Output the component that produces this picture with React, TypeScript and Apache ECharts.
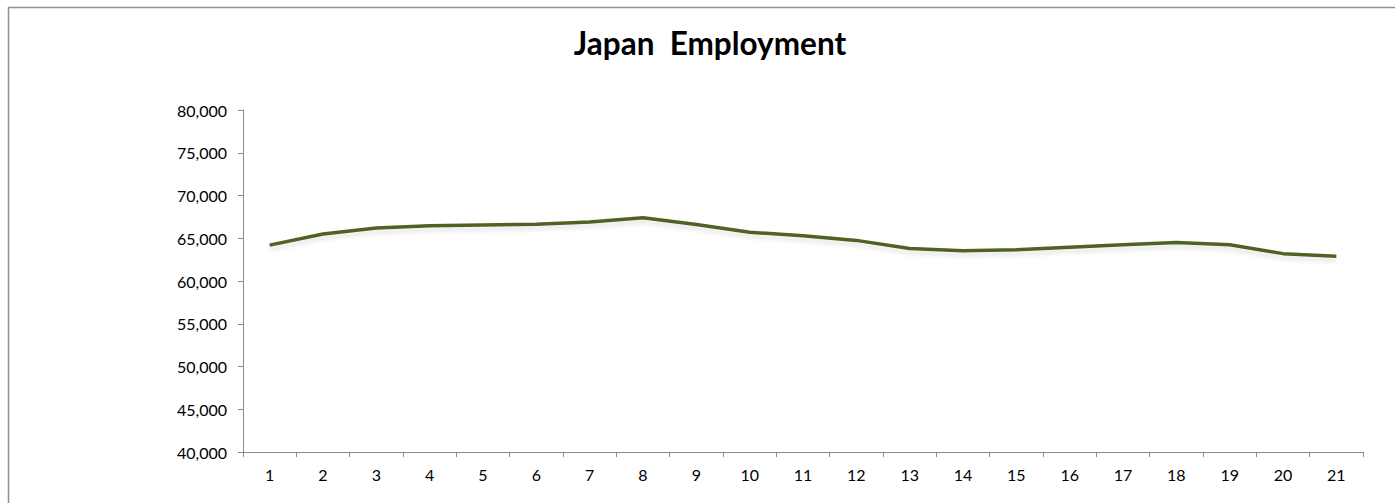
import React, { useEffect, useRef } from "react";
import * as echarts from "echarts";

const TITLE = "Japan  Employment";
const categories = ["1","2","3","4","5","6","7","8","9","10","11","12","13","14","15","16","17","18","19","20","21"];
const employment = [64200, 65500, 66200, 66450, 66550, 66650, 66900, 67400, 66600, 65700, 65300, 64750, 63800, 63550, 63650, 63950, 64250, 64500, 64250, 63200, 62900];
const yMin = 40000;
const yMax = 80000;
const yStep = 5000;

const FONT = "Lato, 'Open Sans', sans-serif";

export default function App() {
  const ref = useRef<HTMLDivElement>(null);
  useEffect(() => {
    if (!ref.current) return;
    const chart = echarts.init(ref.current, undefined, { renderer: "svg" });
    chart.setOption({
      animation: false,
      backgroundColor: "#ffffff",
      title: {
        text: TITLE,
        left: 710,
        top: 27,
        padding: 0,
        textAlign: "center",
        textStyle: { fontFamily: FONT, fontWeight: "bold", fontSize: 31.5, color: "#000000" },
      },
      graphic: [
        { type: "line", shape: { x1: 8, y1: 7.5, x2: 1395, y2: 7.5 }, style: { stroke: "#8f8f8f", lineWidth: 1.5 } },
        { type: "line", shape: { x1: 8.5, y1: 7, x2: 8.5, y2: 503 }, style: { stroke: "#8f8f8f", lineWidth: 1.5 } },
      ],
      grid: { left: 243, top: 110, right: 32, bottom: 51, containLabel: false },
      xAxis: {
        type: "category",
        data: categories,
        boundaryGap: true,
        axisLine: { show: true, lineStyle: { color: "#8a8a8a", width: 1 } },
        axisTick: { show: true, interval: 0, length: 5, lineStyle: { color: "#8a8a8a" } },
        axisLabel: { interval: 0, margin: 14, fontFamily: FONT, fontSize: 16, color: "#000000" },
        splitLine: { show: false },
      },
      yAxis: {
        type: "value",
        min: yMin,
        max: yMax,
        interval: yStep,
        axisLine: { show: true, lineStyle: { color: "#8a8a8a", width: 1 } },
        axisTick: { show: true, length: 5, lineStyle: { color: "#8a8a8a" } },
        axisLabel: {
          margin: 16,
          fontFamily: FONT,
          fontSize: 16,
          color: "#000000",
          formatter: (v: number) => v.toLocaleString("en-US"),
        },
        splitLine: { show: false },
      },
      series: [
        {
          type: "line",
          data: employment,
          symbol: "none",
          smooth: false,
          lineStyle: {
            color: "#4f6228",
            width: 3.5,
            shadowColor: "rgba(0,0,0,0.1)",
            shadowBlur: 4,
            shadowOffsetY: 4,
          },
        },
      ],
    });
    return () => chart.dispose();
  }, []);
  return (
    <div
      ref={ref}
      style={{ position: "absolute", left: 0, top: 0, width: 1395, height: 503 }}
    />
  );
}
